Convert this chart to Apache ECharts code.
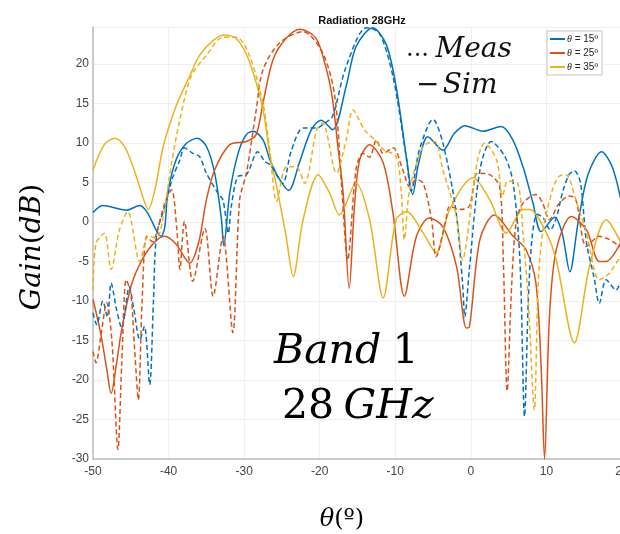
<!DOCTYPE html>
<html>
<head>
<meta charset="utf-8">
<script src="https://cdn.jsdelivr.net/npm/echarts@6/dist/echarts.min.js"></script>
<style>html,body{margin:0;padding:0;background:#fff}#c{width:620px;height:534px}</style>
</head>
<body>
<div id="c"></div>
<script>
// ---- data (theta in degrees, gain in dB) ----
const legendNames = ['θ = 15º', 'θ = 25º', 'θ = 35º'];
const xTicks = [-50, -40, -30, -20, -10, 0, 10, 20];
const yTicks = [-30, -25, -20, -15, -10, -5, 0, 5, 10, 15, 20];

const blueSim = [[-50,1.2],[-48.7,2.1],[-45.6,1.5],[-43.8,2.1],[-42.8,1.2],[-41,-1.8],[-40.5,-0.6],[-40.1,3.7],[-39,7.9],[-37.6,10],[-36.2,10.6],[-35,9.6],[-33.9,6.2],[-33,0.3],[-32.7,-3.0],[-31.9,3.7],[-30.8,8.7],[-29.7,11.1],[-28.8,11.5],[-27.5,10.4],[-26.6,7.9],[-25.3,5.4],[-24.1,4.0],[-22.7,7.5],[-21.1,11.7],[-19.8,12.9],[-18.3,11.7],[-16.5,17.2],[-15.2,22.2],[-13,24.6],[-11.2,22.5],[-9.9,17.2],[-8.5,8],[-7.7,3.5],[-6.9,7.5],[-5.7,10.8],[-3.7,9.1],[-2.2,11.2],[-0.8,12.2],[1.6,11.5],[4.0,12.1],[5.5,10.5],[6.9,7.0],[8.2,2.5],[9.3,-1.2],[11.1,0.6],[12.1,-1.5],[13.1,-6.3],[14.2,0],[15.5,6],[17.3,8.9],[18.7,7],[20,2.2]];

const blueMeas = [[-50,-11.5],[-49.5,-13],[-48.7,-10],[-48.1,-12],[-47.6,-7.7],[-46.9,-11],[-46.2,-13.4],[-45.2,-8.2],[-44.6,-11],[-43.8,-14.9],[-43.2,-13.2],[-42.5,-20.6],[-42,-10],[-41.6,-1.8],[-40.5,2.0],[-39.5,5.5],[-38.5,7.9],[-37.9,9.4],[-36.8,8.7],[-35.9,8.3],[-35,6.2],[-33.5,3.7],[-32.8,2.8],[-32.1,-1.4],[-31.7,2],[-30.8,5.8],[-29.7,6.0],[-28.2,8.9],[-27.3,7.7],[-26.5,7.2],[-24.9,4.9],[-23.8,8.9],[-22.2,11.9],[-20.4,11.9],[-19.4,12.5],[-18.3,13.4],[-16.5,19.7],[-13.8,24.6],[-12.1,23.9],[-10.3,18.4],[-8.5,7.9],[-7.9,3.9],[-6.8,9.2],[-5,13.0],[-3.7,10],[-2,1.6],[-1.1,-7.7],[-0.8,-12],[-0.2,-6],[1.2,6.6],[2.7,10.2],[4.5,8.3],[5.6,4.9],[6.5,-5],[7.1,-24.6],[7.6,-10],[8.1,-2],[8.8,1],[9.6,0.5],[10.5,-1],[11.3,0.5],[12.2,4],[13,6],[13.7,6.5],[14.5,5],[15.3,-2.6],[16.3,-7],[17,-10.3],[17.9,-7.3],[19.2,-8.6],[20,-7]];

const orangeSim = [[-50,-9.8],[-49,-14],[-48.2,-18.5],[-47.6,-21.7],[-46.9,-18],[-46.2,-13.6],[-44.9,-7.9],[-43.4,-4.6],[-41.8,-2.5],[-40.5,-1.8],[-39,-2.8],[-37.2,-5.2],[-36,-2.5],[-35,2.8],[-33.9,6.6],[-31.9,9.8],[-29.7,10.2],[-28.4,11.1],[-27.5,15.1],[-26.2,20.5],[-24.5,23.2],[-22.6,24.4],[-20.5,23.3],[-19.1,19.3],[-18.3,15.5],[-17.6,9.6],[-16.9,3.7],[-16.1,-8.4],[-15.4,2],[-14.7,7.9],[-13.4,9.8],[-11.6,7.5],[-10.3,1.1],[-8.8,-9.4],[-7.2,-1.8],[-5.5,0.5],[-3.7,-0.6],[-1.9,-5.6],[-0.6,-13.4],[-0.2,-13.3],[1.2,-2.2],[3.1,0.9],[5.6,-1.8],[7.3,-3.5],[8.6,-7.7],[9.3,-18.3],[9.75,-30],[10.4,-12],[11.3,-3.5],[13.3,0.7],[15.3,-1],[17,-5],[17.9,-5],[20,-2.3]];

const orangeMeas = [[-50,-16.4],[-49.6,-17.8],[-48.9,-14],[-48.2,-10.2],[-47.5,-15],[-46.7,-28.8],[-46.2,-18],[-45.6,-7.3],[-45,-9],[-44.5,-16],[-44,-22.5],[-43.5,-10],[-42.9,-1.8],[-42.1,-2.5],[-41.6,-1.4],[-40.5,2.4],[-39.6,4.1],[-38.9,-1],[-38.5,-6],[-37.9,0.1],[-36.8,-7.5],[-35.2,-0.8],[-34.1,-9.4],[-32.8,-1.8],[-31.5,-14.0],[-30.6,2.8],[-29.7,6.2],[-28.4,14.2],[-27.5,19.3],[-25.3,22.7],[-22.2,24.1],[-19.6,21.4],[-18,15.9],[-17.1,4.5],[-16.3,-4.8],[-15.2,6.6],[-14.3,8.7],[-13.4,8.2],[-12.5,10.4],[-11.6,8.7],[-10.3,9.4],[-9,6.6],[-8.1,4.5],[-7.2,5.4],[-6.3,4.9],[-5.2,0.3],[-4.6,-4.4],[-3.3,0.3],[-2.8,2],[-1.5,1.6],[-0.2,2.0],[0.9,6.2],[2.5,6],[3.8,4.5],[4.3,-5],[4.8,-21.4],[5.4,-8],[6,0],[6.9,2.4],[8.6,3.5],[9.5,2.4],[10.4,0.3],[11.7,2.4],[13.1,3.3],[13.9,2.8],[15.3,-3.1],[17,-1.8],[18.3,-2.2],[20,-3.3]];

const yellowSim = [[-50,6.6],[-48.5,9.8],[-47.1,10.6],[-45.8,9.5],[-44.7,7.0],[-43.2,2.6],[-42.7,1.6],[-41.8,4.1],[-40.7,9.6],[-39,14.7],[-37.2,18.5],[-35.9,21.1],[-34.1,23.0],[-32.6,23.7],[-31,23.2],[-29.3,20.3],[-27.5,14.2],[-26.6,8.5],[-25.7,4.5],[-24.5,-1.5],[-23.5,-6.9],[-22.2,0.3],[-20.2,6.0],[-18.7,3.7],[-17.4,0.9],[-15.2,4.9],[-13.4,0.3],[-11.6,-9.6],[-9.9,0.3],[-8.5,1.3],[-6.3,-1.4],[-4.6,-3.9],[-2.8,1.6],[0.3,5.6],[2.5,2.8],[4.7,-1.4],[6.9,1.6],[7.8,1.6],[10,-1.4],[11.3,-4.8],[13.7,-15.3],[15.7,-5.6],[17.9,0.3],[20,-2.9]];

const yellowMeas = [[-50,-8.6],[-49.6,-2.7],[-48.5,-1.4],[-47.6,-6.0],[-46.5,-1],[-45.4,1.3],[-43.8,-5.0],[-42.7,-1.8],[-41.6,-2],[-40.7,0.7],[-39.6,7.5],[-38.5,13.0],[-37,18.5],[-35,21.1],[-32.8,23.4],[-31,23.4],[-29.3,21.1],[-27.5,15],[-26.6,9],[-25.7,2.6],[-24.4,7.0],[-23.1,7.0],[-22,4.9],[-20.4,11.7],[-19.6,12.5],[-17.8,6.2],[-16.5,10.4],[-15.6,14.2],[-14.1,11.7],[-12.7,10.4],[-11.6,9.2],[-9.9,8.3],[-9.2,3.7],[-8.8,-2.2],[-8.1,4.1],[-6.3,9.6],[-4.8,10.2],[-3.7,6.6],[-1.9,0.7],[-1.1,-4.8],[0.05,2.0],[0.9,7.9],[1.8,10.0],[3.4,7.9],[4.2,3.3],[4.9,5.2],[6.2,4.9],[6.9,-1.4],[7.6,-10],[8.4,-23.8],[8.9,-8],[9.5,-1.4],[10.8,4.1],[11.7,5.8],[12.6,6.0],[13.9,2.8],[15.3,-1.4],[17,-7.3],[18.3,-6.5],[20,-4]];

const colors = ['#0072BD', '#D95319', '#EDB120'];
// ---------------------------------------------

const math = 'DejaVu Serif';
function line(name, data, color, dashed) {
  return {
    name: name, type: 'line', data: data, symbol: 'none', smooth: 0.3,
    lineStyle: { color: color, width: 1.5, type: dashed ? [5, 3] : 'solid' },
    itemStyle: { color: color },
    emphasis: { disabled: true }, animation: false
  };
}

const chart = echarts.init(document.getElementById('c'), null, { renderer: 'canvas' });
chart.setOption({
  animation: false,
  title: {
    text: 'Radiation 28GHz', left: 357, top: 10, textAlign: 'center',
    textStyle: { fontFamily: 'Liberation Sans', fontSize: 11, fontWeight: 'bold', color: '#111' }
  },
  legend: {
    data: legendNames, orient: 'vertical', left: 547, top: 31,
    icon: 'rect', itemWidth: 15, itemHeight: 2, itemGap: 4,
    padding: [3, 4, 3, 3], borderColor: '#c4c4c4', borderWidth: 1, backgroundColor: '#fff',
    formatter: function (n) { return '{i|θ}' + n.slice(1); },
    textStyle: { fontFamily: 'Liberation Sans', fontSize: 10, color: '#222', padding: [0, 0, 0, -3],
      rich: { i: { fontStyle: 'italic', fontFamily: 'Liberation Serif', fontSize: 10, color: '#222' } } }
  },
  grid: { left: 93, right: -2, top: 27, bottom: 75, outerBoundsMode: 'none', containLabel: false },
  xAxis: {
    type: 'value', min: xTicks[0], max: xTicks[xTicks.length - 1], interval: 10,
    axisLine: { onZero: false, lineStyle: { color: '#bdbdbd', width: 1.5 } },
    axisTick: { show: false },
    axisLabel: { color: '#444', fontFamily: 'Liberation Sans', fontSize: 12, margin: 7, hideOverlap: false },
    splitLine: { lineStyle: { color: '#efefef', width: 1 } }
  },
  yAxis: {
    type: 'value', min: yTicks[0], max: 24.7, interval: 5,
    axisLine: { show: true, onZero: false, lineStyle: { color: '#bdbdbd', width: 1.5 } },
    axisTick: { show: false },
    axisLabel: { color: '#444', fontFamily: 'Liberation Sans', fontSize: 12, margin: 4, showMaxLabel: false },
    splitLine: { lineStyle: { color: '#efefef', width: 1 } }
  },
  graphic: [
    { type: 'text', z: 100, left: 406, top: 36, style: { text: '{d|...}  {m|Meas}', rich: {
        d: { fontFamily: math, fontSize: 24, fill: '#111' }, m: { fontFamily: math, fontStyle: 'italic', fontSize: 28, fill: '#111' } } } },
    { type: 'text', z: 100, left: 416, top: 72, style: { text: '{d|−} {m|Sim}', rich: {
        d: { fontFamily: math, fontSize: 28, fill: '#111' }, m: { fontFamily: math, fontStyle: 'italic', fontSize: 28, fill: '#111' } } } },
    { type: 'text', z: 100, left: 274, top: 332, style: { text: '{m|Band} {n|1}', rich: {
        m: { fontFamily: math, fontStyle: 'italic', fontSize: 41, fill: '#000' }, n: { fontFamily: math, fontSize: 41, fill: '#000', padding: [0, 0, 0, 8] } } } },
    { type: 'text', z: 100, left: 282, top: 387, style: { text: '{n|28} {m|GHz}', rich: {
        m: { fontFamily: math, fontStyle: 'italic', fontSize: 41, fill: '#000', padding: [0, 0, 0, 6] }, n: { fontFamily: math, fontSize: 41, fill: '#000' } } } },
    { type: 'text', z: 100, x: 33, y: 247, rotation: Math.PI / 2, style: { text: '{m|Gain}{n|(}{m|dB}{n|)}', align: 'center', verticalAlign: 'middle', rich: {
        m: { fontFamily: math, fontStyle: 'italic', fontSize: 28, fill: '#000' }, n: { fontFamily: math, fontSize: 28, fill: '#000' } } } },
    { type: 'text', z: 100, x: 342, y: 520, style: { text: '{m|θ}{n|(º)}', align: 'center', verticalAlign: 'middle', rich: {
        m: { fontFamily: math, fontStyle: 'italic', fontSize: 24, fill: '#000' }, n: { fontFamily: math, fontSize: 24, fill: '#000' } } } }
  ],
  series: [
    line(legendNames[0], blueSim, colors[0], false),
    line(legendNames[1], orangeSim, colors[1], false),
    line(legendNames[2], yellowSim, colors[2], false),
    line('meas15', blueMeas, colors[0], true),
    line('meas25', orangeMeas, colors[1], true),
    line('meas35', yellowMeas, colors[2], true)
  ]
});
</script>
</body>
</html>
